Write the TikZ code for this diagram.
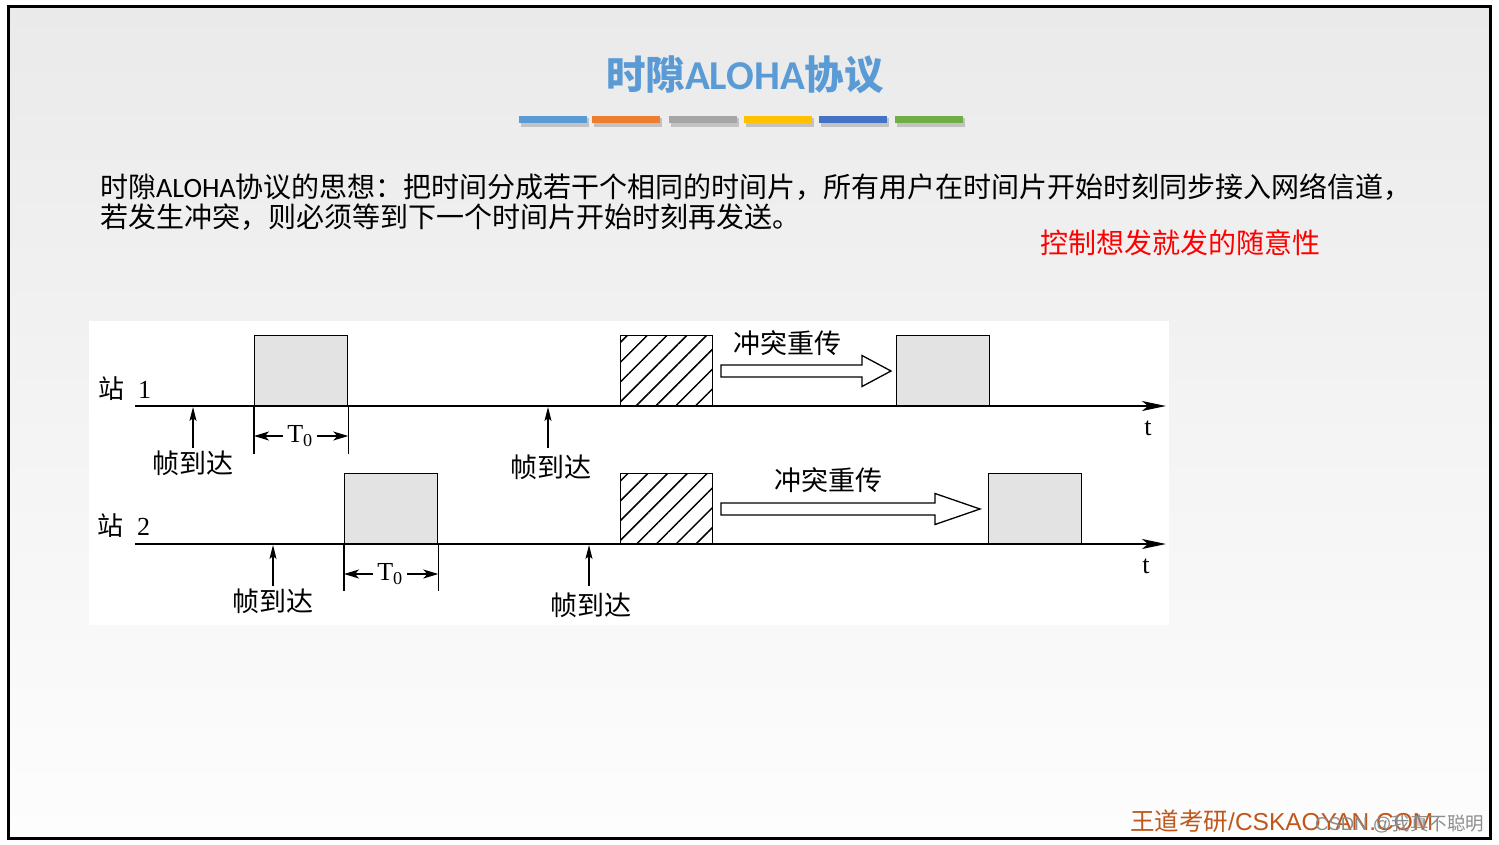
\documentclass[tikz,border=0pt]{standalone}
\usepackage{fontspec}
\setmainfont{Liberation Serif}
\newfontfamily\cjk{Noto Sans CJK SC}
\newfontfamily\lat{Carlito}
\newfontfamily\arial{Liberation Sans}
\usetikzlibrary{arrows.meta,patterns.meta}
\definecolor{titleblue}{HTML}{5B9BD5}
\definecolor{barA}{HTML}{5B9BD5}
\definecolor{barB}{HTML}{ED7D31}
\definecolor{barC}{HTML}{A5A5A5}
\definecolor{barD}{HTML}{FFC000}
\definecolor{barE}{HTML}{4472C4}
\definecolor{barF}{HTML}{70AD47}
\definecolor{boxgray}{HTML}{E3E3E3}
\definecolor{brand}{HTML}{C0561A}
\definecolor{bgtop}{HTML}{EAEAEA}
\definecolor{bgbot}{HTML}{FDFDFD}
\begin{document}
\begin{tikzpicture}[x=1pt,y=-1pt,
  axis/.style={line width=1.8pt,-{Stealth[length=24pt,width=10pt,inset=6pt]}},
  arrive/.style={line width=1.1pt,-{Stealth[length=14pt,width=7pt,inset=3pt]}},
  dimarrow/.style={line width=1.4pt,-{Stealth[length=15pt,width=9pt,inset=4pt]}},
  tick/.style={line width=1.1pt},
  graybox/.style={draw,line width=1.3pt,fill=boxgray,minimum width=93pt,minimum height=70pt,inner sep=0pt,anchor=south west},
  hatchbox/.style={draw,line width=1.3pt,pattern={Lines[angle=45,distance=14pt,line width=1.5pt]},minimum width=92pt,minimum height=70pt,inner sep=0pt,anchor=south west},
  hollow/.style={draw,line width=1.3pt,fill=white,line join=miter},
  cjklbl/.style={font=\cjk\fontsize{27}{30}\selectfont,inner sep=0pt},
  serlbl/.style={font=\fontsize{26}{30}\selectfont,inner sep=0pt},
  body/.style={font=\cjk\fontsize{28}{30}\selectfont,inner sep=0pt,anchor=west},
  bar/.style={inner sep=0pt}
]
\useasboundingbox (0,0) rectangle (1499,844);
% background and frame
\fill[white] (0,0) rectangle (1499,844);
\shade[top color=bgtop,bottom color=bgbot] (8,6) rectangle (1490,838.5);
\draw[line width=3pt] (8,6) rectangle (1490,838.5);

% title
\node[font=\cjk\bfseries\fontsize{39.5}{42}\selectfont,text=titleblue,inner sep=0pt] (title) at (745,75) {时隙{\lat\bfseries\fontsize{41}{42}\selectfont ALOHA}协议};

% colored bars with shadow
\foreach \x/\c in {519/barA,592/barB,669/barC,744/barD,819/barE,895/barF}{
  \fill[black,opacity=0.18] (\x+1.5,118) rectangle (\x+70,126.5);
  \fill[\c] (\x,116) rectangle (\x+68,123);
}

% body text
\node[body] (line1) at (100,187) {时隙{\lat ALOHA}协议的思想：把时间分成若干个相同的时间片，所有用户在时间片开始时刻同步接入网络信道，};
\node[body] (line2) at (100,217) {若发生冲突，则必须等到下一个时间片开始时刻再发送。};
\node[body,anchor=center,text=red] (note) at (1180,243) {控制想发就发的随意性};

% diagram area
\fill[white] (89,321) rectangle (1169,625);

% station 1
\node[graybox] (s1a) at (254,406) {};
\node[hatchbox] (s1c) at (620,406) {};
\node[graybox] (s1r) at (896,406) {};
\coordinate (a1s) at (135,406);
\coordinate (a1e) at (1166,406);
\draw[axis] (a1s) -- (a1e);
\node[anchor=west,inner sep=0pt,font=\fontsize{26}{30}\selectfont] (st1) at (98,389) {{\cjk 站}\hspace{14pt}1};
\node[serlbl] (t1) at (1148,428) {t};

\coordinate (f1b) at (193,448);
\coordinate (f1t) at (193,407);
\draw[arrive] (f1b) -- (f1t);
\node[cjklbl] (f1) at (193,463) {帧到达};

\coordinate (f2b) at (548,448);
\coordinate (f2t) at (548,407);
\draw[arrive] (f2b) -- (f2t);
\node[cjklbl] (f2) at (551,467) {帧到达};

\draw[tick] (s1a.south west) -- ++(0,48);
\draw[tick] (s1a.south east) -- ++(0,48);
\node[serlbl] (T1) at (300,436) {T\textsubscript{0}};
\draw[dimarrow] ([xshift=-4pt]T1.west) -- (T1.west -| s1a.west);
\draw[dimarrow] ([xshift=4pt]T1.east) -- (T1.east -| s1a.east);

\node[cjklbl] (r1) at (787,343) {冲突重传};
\draw[hollow] (721,365) -- (862,365) -- (862,355.5) -- (891,371) -- (862,386.5) -- (862,377) -- (721,377) -- cycle;

% station 2
\node[graybox] (s2a) at (344,544) {};
\node[hatchbox] (s2c) at (620,544) {};
\node[graybox] (s2r) at (988,544) {};
\coordinate (a2s) at (135,544);
\coordinate (a2e) at (1166,544);
\draw[axis] (a2s) -- (a2e);
\node[anchor=west,inner sep=0pt,font=\fontsize{26}{30}\selectfont] (st2) at (97,526) {{\cjk 站}\hspace{14pt}2};
\node[serlbl] (t2) at (1146,566) {t};

\coordinate (f3b) at (273,586);
\coordinate (f3t) at (273,545);
\draw[arrive] (f3b) -- (f3t);
\node[cjklbl] (f3) at (273,601) {帧到达};

\coordinate (f4b) at (589,586);
\coordinate (f4t) at (589,545);
\draw[arrive] (f4b) -- (f4t);
\node[cjklbl] (f4) at (591,605) {帧到达};

\draw[tick] (s2a.south west) -- ++(0,47);
\draw[tick] (s2a.south east) -- ++(0,47);
\node[serlbl] (T2) at (390,574) {T\textsubscript{0}};
\draw[dimarrow] ([xshift=-4pt]T2.west) -- (T2.west -| s2a.west);
\draw[dimarrow] ([xshift=4pt]T2.east) -- (T2.east -| s2a.east);

\node[cjklbl] (r2) at (828,480) {冲突重传};
\draw[hollow] (721,503) -- (935,503) -- (935,493.5) -- (980,509) -- (935,524.5) -- (935,515) -- (721,515) -- cycle;

% footer
\node[anchor=west,inner sep=0pt,text=brand,font=\fontsize{24.5}{26}\selectfont] (brandtxt) at (1130,821) {{\cjk 王道考研}{\arial /CSKAOYAN.COM}};
\node[anchor=west,inner sep=0pt,text=black!45,font=\fontsize{18.5}{20}\selectfont] (csdn) at (1315,824) {{\arial CSDN @}{\cjk 我真不聪明}};
\end{tikzpicture}
\end{document}
